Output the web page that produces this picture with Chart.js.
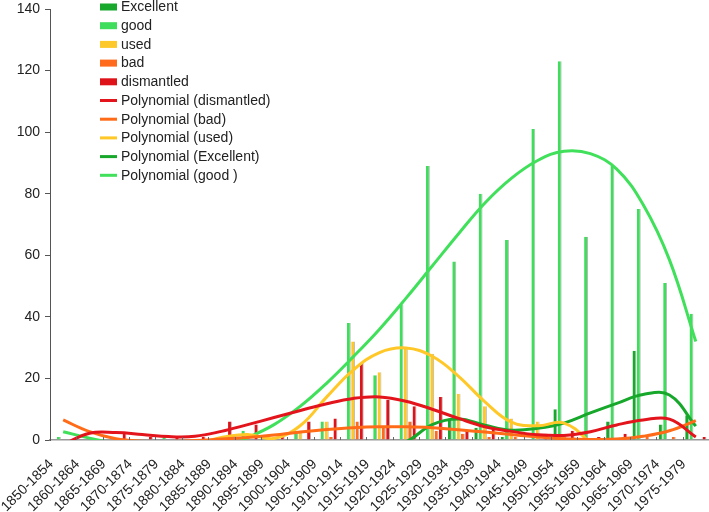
<!DOCTYPE html>
<html>
<head>
<meta charset="utf-8">
<script src="https://cdn.jsdelivr.net/npm/chart.js@4.4.1/dist/chart.umd.min.js"></script>
<style>
  html, body { margin: 0; padding: 0; background: #fff; }
</style>
</head>
<body>
<canvas id="myChart" width="709" height="512"></canvas>
<script>
const periods = [
  '1850-1854', '1860-1864', '1865-1869', '1870-1874', '1875-1879',
  '1880-1884', '1885-1889', '1890-1894', '1895-1899', '1900-1904',
  '1905-1909', '1910-1914', '1915-1919', '1920-1924', '1925-1929',
  '1930-1934', '1935-1939', '1940-1944', '1945-1949', '1950-1954',
  '1955-1959', '1960-1964', '1965-1969', '1970-1974', '1975-1979'
];

// bar counts per period
const excellent  = [0, 0, 0, 0, 0, 0, 0, 0, 0, 0, 0, 0, 0, 0, 0, 7, 4, 1, 0, 10, 0, 6, 29, 5, 8];
const good       = [1, 0, 0, 0, 1, 0, 0, 3, 0, 3, 6, 38, 21, 44, 89, 58, 80, 65, 101, 123, 66, 89, 75, 51, 41];
const used       = [0, 0, 0, 0, 0, 0, 0, 0, 1, 3, 6, 32, 22, 30, 28, 15, 11, 7, 6, 2, 0, 0, 0, 0, 0];
const bad        = [0, 0, 0, 0, 0, 0, 0, 0, 0, 0, 1, 6, 4, 6, 3, 2, 1, 1, 0, 0, 0, 0, 1, 1, 0];
const dismantled = [0, 0, 2, 1, 1, 1, 6, 5, 1, 6, 7, 25, 13, 11, 14, 3, 4, 0, 2, 3, 1, 2, 0, 0, 1];

// trend curves (values below 0 are hidden by the axis)
const polyDismantled = [-1.5, 2.2, 2.4, 1.8, 1.1, 1.2, 2.8, 5.0, 7.3, 9.6, 11.8, 13.5, 14.0, 12.6, 10.0, 7.0, 4.3, 2.8, 1.7, 1.5, 2.7, 4.9, 6.5, 6.8, 1.0];
const polyBad        = [6.5, 2.7, 0.4, -0.4, -0.5, -0.2, 0.3, 0.8, 1.6, 2.6, 3.4, 4.0, 4.3, 4.3, 4.0, 3.3, 2.6, 1.8, 1.0, 0.4, 0.2, 0.3, 1.2, 3.0, 6.3];
const polyUsed       = [-30, -20, -12, -7, -4, -1.5, 0.8, 1.8, 0.5, 4.7, 14, 22.7, 28.4, 29.9, 27.2, 20.7, 12.4, 5.8, 4.6, 5.5, -1, -10, -25, -45, -70];
const polyExcellent  = [-40, -35, -30, -26, -22, -18, -15, -12, -10, -8, -6, -4, -2.5, -0.6, 5, 6.8, 4.8, 3.2, 3.8, 5.5, 8.8, 11.9, 14.8, 14.6, 4.5];
const polyGood       = [2.7, 0.6, -1.2, -3, -4, -4, -2.5, 0.8, 5, 11, 18.5, 27, 36, 46, 56.5, 67, 77, 85, 90.8, 93.8, 93, 88, 76.5, 58.5, 32];

const FONT = '"Liberation Sans", Arial, sans-serif';

function barSet(label, data, color) {
  return {
    type: 'bar', label: label, data: data, order: 1,
    backgroundColor: color, borderColor: '#b8b8b8',
    borderWidth: { top: 0, right: 1, bottom: 0, left: 0 },
    categoryPercentage: 0.82, barPercentage: 0.9
  };
}
function lineSet(label, data, color) {
  return {
    type: 'line', label: label, data: data, order: 0,
    borderColor: color, backgroundColor: color, borderWidth: 3,
    pointRadius: 0, tension: 0.4, fill: false
  };
}

const legendBox = {
  id: 'legendBox',
  afterDraw(chart) {
    const ctx = chart.ctx;
    ctx.save();
    ctx.font = '14px ' + FONT;
    ctx.textBaseline = 'middle';
    chart.data.datasets.forEach((ds, i) => {
      const y = 7 + i * 18.7;
      if (ds.type === 'line') {
        ctx.fillStyle = ds.borderColor;
        ctx.fillRect(100, y - 1.5, 17, 3);
      } else {
        ctx.fillStyle = ds.backgroundColor;
        ctx.fillRect(100, y - 3.5, 17, 7);
      }
      ctx.fillStyle = '#222';
      ctx.fillText(ds.label, 121, y + 0.5);
    });
    ctx.restore();
  }
};

// small tick marks pointing up from the x axis at category borders
const innerTicks = {
  id: 'innerTicks',
  afterDatasetsDraw(chart) {
    const x = chart.scales.x, ctx = chart.ctx;
    const half = (x.getPixelForValue(1) - x.getPixelForValue(0)) / 2;
    ctx.save();
    ctx.strokeStyle = '#666';
    ctx.lineWidth = 1;
    for (let i = 0; i < periods.length; i++) {
      const px = Math.round(x.getPixelForValue(i) + half) + 0.5;
      ctx.beginPath();
      ctx.moveTo(px, x.top);
      ctx.lineTo(px, x.top - 3);
      ctx.stroke();
    }
    ctx.restore();
  }
};

new Chart(document.getElementById('myChart'), {
  data: {
    labels: periods,
    datasets: [
      barSet('Excellent', excellent, '#18a82c'),
      barSet('good', good, '#3fdd5c'),
      barSet('used', used, '#fdc82a'),
      barSet('bad', bad, '#ff6a1c'),
      barSet('dismantled', dismantled, '#de1219'),
      lineSet('Polynomial (dismantled)', polyDismantled, '#e3141c'),
      lineSet('Polynomial (bad)', polyBad, '#ff6b17'),
      lineSet('Polynomial (used)', polyUsed, '#ffc828'),
      lineSet('Polynomial (Excellent)', polyExcellent, '#17a82b'),
      lineSet('Polynomial (good )', polyGood, '#40e05b')
    ]
  },
  options: {
    responsive: false,
    animation: false,
    layout: { padding: { top: 9, right: 0, left: 0, bottom: 0 } },
    plugins: {
      legend: { display: false },
      tooltip: { enabled: false }
    },
    scales: {
      x: {
        offset: true,
        grid: { display: false },
        border: { color: '#999', width: 1.5 },
        ticks: {
          autoSkip: false, minRotation: 45, maxRotation: 45,
          padding: 8, labelOffset: -12,
          color: '#222', font: { size: 14, family: FONT }
        },
        afterFit: s => { s.height = 72; s.paddingLeft = 0; s.paddingRight = 0; }
      },
      y: {
        min: 0, max: 140,
        ticks: { stepSize: 20, padding: 5, color: '#222', font: { size: 14, family: FONT } },
        grid: { drawOnChartArea: false, tickLength: 5, color: '#555' },
        border: { color: '#555', width: 1 },
        afterFit: s => { s.width = 50; s.paddingTop = 0; s.paddingBottom = 0; }
      }
    }
  },
  plugins: [innerTicks, legendBox]
});
</script>
</body>
</html>
